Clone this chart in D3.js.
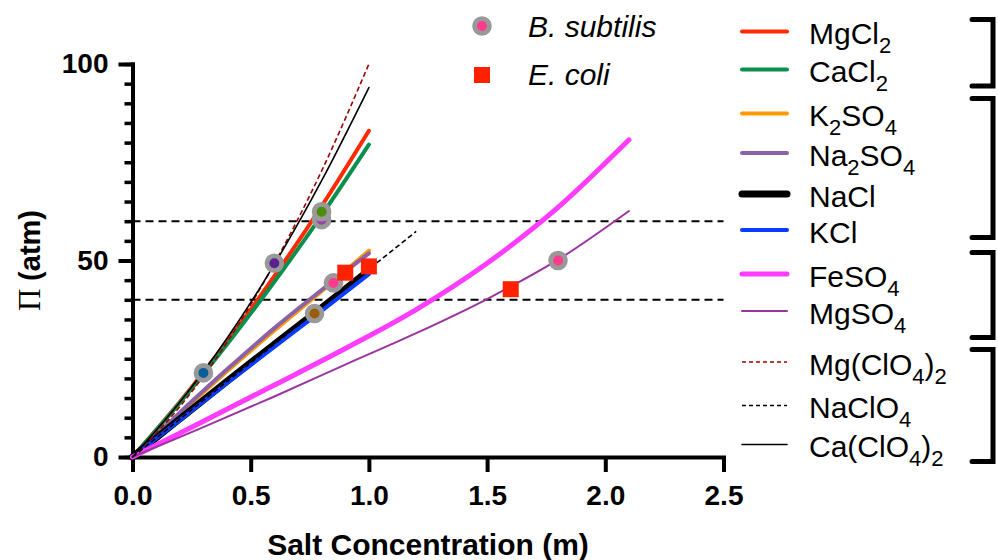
<!DOCTYPE html>
<html>
<head>
<meta charset="utf-8">
<style>
  body { margin: 0; background: #fff; }
  svg { display: block; font-family: "Liberation Sans", Arial, sans-serif; }
</style>
</head>
<body>
<svg id="svg" width="998" height="560"></svg>
<script src="https://cdn.jsdelivr.net/npm/d3@7"></script>
<script>
// osmotic pressure (atm) vs salt concentration (m)
const concA = [0, 0.2, 0.4, 0.6, 0.8, 1.0];
const concB = [0, 0.2, 0.4, 0.6, 0.8, 1.0, 1.2];
const concC = [0, 0.3, 0.6, 0.9, 1.2, 1.5, 1.8, 2.1];

const mgcl2   = [0, 14.0, 29.4, 46.0, 63.8, 83.0];
const cacl2   = [0, 13.8, 28.7, 44.6, 61.5, 79.5];
const k2so4   = [0, 11.0, 21.8, 32.2, 42.2, 52.5];
const na2so4  = [0, 11.3, 22.3, 32.8, 42.5, 51.8];
const nacl    = [0, 9.7, 19.3, 28.7, 38.0, 47.5];
const kcl     = [0, 9.4, 18.8, 28.0, 37.2, 46.5];
const feso4   = [0, 9.1, 18.3, 27.6, 37.5, 49.3, 63.5, 80.7];
const mgso4   = [0, 7.6, 15.4, 23.5, 31.5, 40.2, 50.2, 62.6];
const mgclo42 = [0, 12.8, 29.2, 49.2, 72.8, 100.0];
const naclo4  = [0, 9.6, 19.2, 28.7, 38.2, 47.8, 57.4];
const caclo42 = [0, 13.9, 30.2, 49.0, 70.3, 94.0];

const bsubX = [0.30, 0.60, 0.80, 0.80, 0.85, 0.77, 1.80];
const bsubY = [21.4, 49.3, 60.4, 62.4, 44.3, 36.5, 50.0];
const ecoliX = [0.90, 1.00, 1.60];
const ecoliY = [46.9, 48.5, 42.7];

const refLines = [40, 60];
const xTicks = [0, 0.5, 1.0, 1.5, 2.0, 2.5];
const yTicks = [0, 50, 100];

// series: label, x, y + style
const series = [
  {label: "MgCl_2",       x: concA, y: mgcl2,   color: "#ff2a00", w: 4},
  {label: "CaCl_2",       x: concA, y: cacl2,   color: "#0b8f4d", w: 4},
  {label: "K_2SO_4",      x: concA, y: k2so4,   color: "#ff9a00", w: 4},
  {label: "Na_2SO_4",     x: concA, y: na2so4,  color: "#8a62a8", w: 4},
  {label: "NaCl",         x: concA, y: nacl,    color: "#000",    w: 7},
  {label: "KCl",          x: concA, y: kcl,     color: "#0a3cff", w: 4},
  {label: "FeSO_4",       x: concC, y: feso4,   color: "#ff3cff", w: 5},
  {label: "MgSO_4",       x: concC, y: mgso4,   color: "#9a35a0", w: 2},
  {label: "Mg(ClO_4)_2",  x: concA, y: mgclo42, color: "#9b0000", w: 1.6, dash: "5,3"},
  {label: "NaClO_4",      x: concB, y: naclo4,  color: "#000",    w: 1.6, dash: "5,3"},
  {label: "Ca(ClO_4)_2",  x: concA, y: caclo42, color: "#000",    w: 1.6}
];
const bsubFill = ["#0b5e96", "#5b1f8f", "#9c3ea8", "#4c8c0c", "#ff3b8d", "#995c0c", "#ff3b8d"];

const svg = d3.select("#svg");
const x = d3.scaleLinear().domain([0, 2.5]).range([132.5, 723.5]);
const y = d3.scaleLinear().domain([0, 100]).range([457, 64]);

// axes
const gy = svg.append("g").attr("transform", `translate(${x(0)},0)`);
gy.call(d3.axisLeft(y).tickValues(d3.range(0, 101, 5)).tickSize(8).tickSizeOuter(0).tickFormat(""));
gy.selectAll("line").attr("stroke-width", 3.5);
const gy2 = svg.append("g").attr("transform", `translate(${x(0)},0)`);
gy2.call(d3.axisLeft(y).tickValues(yTicks).tickSize(14).tickSizeOuter(0).tickPadding(10));
gy2.selectAll("line").attr("stroke-width", 4);
gy2.selectAll("text").attr("font-size", 28).attr("font-weight", "bold").attr("font-family", "Liberation Sans, Arial");
svg.selectAll(".domain").attr("stroke-width", 4).attr("stroke-linecap", "square");

const gx = svg.append("g").attr("transform", `translate(0,${y(0)})`);
gx.call(d3.axisBottom(x).tickValues(xTicks).tickSize(15).tickSizeOuter(0).tickPadding(13).tickFormat(d3.format(".1f")));
gx.selectAll("line").attr("stroke-width", 4);
gx.select(".domain").attr("stroke-width", 4).attr("stroke-linecap", "square");
gx.selectAll("text").attr("font-size", 28).attr("font-weight", "bold").attr("font-family", "Liberation Sans, Arial");

svg.append("text")
  .attr("x", (x(0) + x(2.5)) / 2).attr("y", 555)
  .attr("text-anchor", "middle")
  .attr("font-size", 30).attr("font-weight", "bold")
  .text("Salt Concentration (m)");

const yl = svg.append("text")
  .attr("transform", `translate(40,${y(50)}) rotate(-90)`)
  .attr("text-anchor", "middle")
  .attr("font-size", 29).attr("fill", "#000");
yl.append("tspan").attr("font-family", "Liberation Serif, Times New Roman, serif").attr("font-size", 31).text("\u03A0 ");
yl.append("tspan").attr("font-weight", "bold").text("(atm)");

// dashed reference lines
svg.selectAll("line.ref").data(refLines).join("line")
  .attr("class", "ref")
  .attr("x1", x(0)).attr("x2", x(2.5))
  .attr("y1", d => y(d)).attr("y2", d => y(d))
  .attr("stroke", "#000").attr("stroke-width", 2)
  .attr("stroke-dasharray", "8,5");

// curves
const line = d3.line().curve(d3.curveMonotoneX);
svg.append("g").selectAll("path").data(series).join("path")
  .attr("d", s => line(s.x.map((c, i) => [x(c), y(s.y[i])])))
  .attr("fill", "none")
  .attr("stroke", s => s.color)
  .attr("stroke-width", s => s.w)
  .attr("stroke-dasharray", s => s.dash || null)
  .attr("stroke-linecap", s => s.dash ? "butt" : "round");

// B. subtilis points
svg.append("g").selectAll("circle").data(bsubX).join("circle")
  .attr("cx", d => x(d))
  .attr("cy", (d, i) => y(bsubY[i]))
  .attr("r", 7.4)
  .attr("fill", (d, i) => bsubFill[i])
  .attr("stroke", "#999").attr("stroke-width", 4.8);

// E. coli points
svg.append("g").selectAll("rect").data(ecoliX).join("rect")
  .attr("x", d => x(d) - 8)
  .attr("y", (d, i) => y(ecoliY[i]) - 8)
  .attr("width", 16).attr("height", 16)
  .attr("fill", "#ff2200");

// top legend
svg.append("circle").attr("cx", 482).attr("cy", 26).attr("r", 7.4)
  .attr("fill", "#ff3b8d").attr("stroke", "#999").attr("stroke-width", 4.8);
svg.append("rect").attr("x", 474).attr("y", 67).attr("width", 16).attr("height", 16).attr("fill", "#ff2200");
svg.append("text").attr("x", 528).attr("y", 37).attr("font-size", 30).attr("font-style", "italic").text("B. subtilis");
svg.append("text").attr("x", 528).attr("y", 85).attr("font-size", 30).attr("font-style", "italic").text("E. coli");

// right legend
const rowY = [31.5, 69.5, 113.5, 153, 194, 230, 274, 311, 362, 405.5, 444.5];
const lg = svg.append("g").selectAll("g").data(series).join("g")
  .attr("transform", (s, i) => `translate(0,${rowY[i]})`);
lg.append("line")
  .attr("x1", 742).attr("x2", 787)
  .attr("stroke", s => s.color)
  .attr("stroke-width", s => s.w)
  .attr("stroke-dasharray", s => s.dash ? "4,3" : null)
  .attr("stroke-linecap", s => s.dash ? "butt" : "round");
lg.append("text")
  .attr("x", 809).attr("y", 12.5)
  .attr("font-size", 30)
  .each(function(s) {
    const t = d3.select(this);
    let low = false;
    s.label.split(/(_\d)/).filter(p => p).forEach(p => {
      if (p[0] === "_") {
        t.append("tspan").attr("font-size", 22).attr("dy", low ? 0 : 9).text(p.slice(1));
        low = true;
      } else {
        t.append("tspan").attr("dy", low ? -9 : 0).text(p);
        low = false;
      }
    });
  });

// brackets
const brackets = [[19.5, 86], [98.5, 237.5], [252.5, 337.5], [349.5, 461.5]];
svg.append("g").selectAll("path").data(brackets).join("path")
  .attr("d", b => `M972,${b[0]}H993V${b[1]}H972`)
  .attr("fill", "none").attr("stroke", "#000")
  .attr("stroke-width", 5).attr("stroke-linecap", "round").attr("stroke-linejoin", "miter");
</script>
</body>
</html>
